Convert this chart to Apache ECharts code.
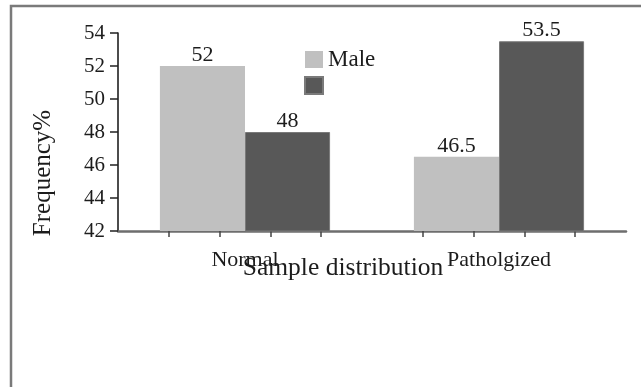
<!DOCTYPE html>
<html>
<head>
<meta charset="utf-8">
<script src="https://cdn.jsdelivr.net/npm/echarts@6/dist/echarts.min.js"></script>
<style>
  html, body { margin: 0; padding: 0; background: #fff; }
  #chart { width: 641px; height: 387px; }
</style>
</head>
<body>
<div id="chart"></div>
<script>
// Sample groups and the share (%) of each sex within them
const categories = ['Normal', 'Patholgized'];
const maleValues = [52, 46.5];
const femaleValues = [48, 53.5];
const seriesNames = ['Male', 'Female'];
const yTicks = { min: 42, max: 54, step: 2 };
// positions of the small marks under the x axis, on a 0–10 scale across the plot
const xTickMarks = [1, 2, 3, 4, 6, 7, 8, 9];

const FONT = '"Liberation Serif", "Times New Roman", serif';
const INK = '#1c1c1c';
const chart = echarts.init(document.getElementById('chart'), null, { renderer: 'canvas' });

const labelStyle = {
  show: true,
  position: 'top',
  distance: 0,
  fontFamily: FONT,
  fontSize: 22,
  color: INK
};

chart.setOption({
  animation: false,
  backgroundColor: '#fff',
  graphic: [{
    type: 'rect',
    shape: { x: 11, y: 6, width: 700, height: 500 },
    style: { fill: 'none', stroke: '#7a7a7a', lineWidth: 2.5 },
    silent: true
  }],
  legend: {
    orient: 'vertical',
    left: 304,
    top: 48,
    padding: 0,
    itemWidth: 18,
    itemHeight: 17,
    itemGap: 5,
    icon: 'rect',
    data: seriesNames,
    formatter: name => (name === 'Male' ? name : ''),
    textStyle: { fontFamily: FONT, fontSize: 23, color: INK }
  },
  grid: { left: 118, right: 15, top: 33, bottom: 156, containLabel: false },
  xAxis: [{
    type: 'category',
    data: categories,
    position: 'bottom',
    axisLine: { show: true, lineStyle: { color: '#6e6e6e', width: 2.5 } },
    axisTick: { show: false },
    axisLabel: { margin: 18, fontFamily: FONT, fontSize: 22, color: INK },
    name: 'Sample distribution',
    nameLocation: 'middle',
    nameMoveOverlap: false,
    nameGap: 24,
    nameTextStyle: { fontFamily: FONT, fontSize: 25.5, color: INK, padding: [0, 58, 0, 0] }
  }, {
    type: 'value',
    min: 0,
    max: 10,
    interval: 1,
    position: 'bottom',
    axisLine: { show: false },
    splitLine: { show: false },
    axisLabel: { show: false },
    axisTick: {
      show: true,
      inside: false,
      length: 6,
      customValues: xTickMarks,
      lineStyle: { color: '#444', width: 1.5 }
    }
  }],
  yAxis: {
    type: 'value',
    min: yTicks.min,
    max: yTicks.max,
    interval: yTicks.step,
    axisLine: { show: true, lineStyle: { color: '#111', width: 1.5 } },
    axisTick: { show: true, length: 8, lineStyle: { color: '#222', width: 1.5 } },
    splitLine: { show: false },
    axisLabel: { margin: 13, fontFamily: FONT, fontSize: 21, color: INK },
    name: 'Frequency%',
    nameLocation: 'middle',
    nameMoveOverlap: false,
    nameRotate: 90,
    nameGap: 62,
    nameTextStyle: { fontFamily: FONT, fontSize: 25, color: INK, padding: [0, 82, 0, 0] }
  },
  series: [{
    name: seriesNames[0],
    type: 'bar',
    xAxisIndex: 0,
    data: maleValues,
    barGap: '0%',
    barCategoryGap: '33%',
    itemStyle: { color: '#c0c0c0' },
    label: labelStyle
  }, {
    name: seriesNames[1],
    type: 'bar',
    xAxisIndex: 0,
    data: femaleValues,
    barGap: '0%',
    barCategoryGap: '33%',
    itemStyle: { color: '#585858', borderColor: '#7a7a7a', borderWidth: 1 },
    label: labelStyle
  }]
});
</script>
</body>
</html>
